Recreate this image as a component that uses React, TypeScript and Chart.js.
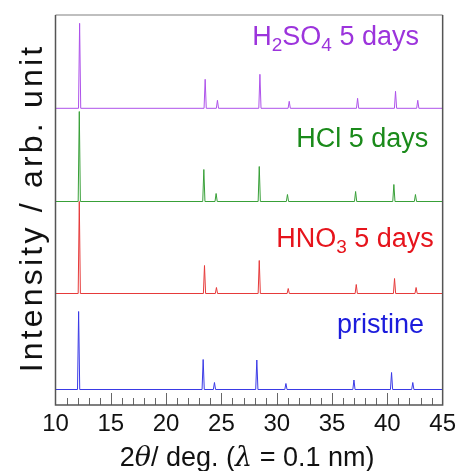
import React, { useEffect, useRef } from "react";
import { Chart, registerables } from "chart.js";

Chart.register(...registerables);

// ---- data ----
const xTicks = [10, 15, 20, 25, 30, 35, 40, 45];
const seriesNames = ["pristine", "HNO3 5 days", "HCl 5 days", "H2SO4 5 days"];
const baselines = [15.5, 111.5, 203.5, 296.7];

const pristinePeaks = [12.09, 23.35, 24.37, 28.2, 30.83, 36.98, 40.38, 42.3];
const pristineHeights = [78, 30, 7, 29.5, 6, 9.5, 17, 7];
const hno3Peaks = [12.15, 23.47, 24.55, 28.42, 31.04, 37.19, 40.65, 42.6];
const hno3Heights = [92, 28, 6, 33, 5, 9, 15, 6];
const hclPeaks = [12.15, 23.41, 24.52, 28.42, 30.97, 37.13, 40.59, 42.54];
const hclHeights = [90, 32, 8, 35, 7, 10, 17, 7];
const h2so4Peaks = [12.18, 23.53, 24.64, 28.48, 31.13, 37.31, 40.74, 42.75];
const h2so4Heights = [85, 29, 8, 34, 7, 10, 17, 8];

const lineColors = ["#3a3ae6", "#e63a3a", "#38a038", "#ae52ea"];
const textColors = ["#1c1cdc", "#e6141c", "#1a8a1a", "#9c34dc"];

const FONT = "'Liberation Sans', Arial, sans-serif";

function buildSeries(peaks: number[], heights: number[], base: number) {
  const pts: { x: number; y: number }[] = [{ x: 10, y: base }];
  const hw = 0.1;
  peaks.forEach((p, i) => {
    pts.push({ x: p - hw, y: base });
    pts.push({ x: p, y: base + heights[i] });
    pts.push({ x: p + hw, y: base });
  });
  pts.push({ x: 45, y: base });
  return pts;
}

type Run = { t: string; font: string; dy?: number };

function drawRuns(ctx: CanvasRenderingContext2D, runs: Run[], x: number, y: number, align: "left" | "center") {
  let total = 0;
  for (const r of runs) {
    ctx.font = r.font;
    total += ctx.measureText(r.t).width;
  }
  let cx = align === "center" ? x - total / 2 : x;
  ctx.textAlign = "left";
  ctx.textBaseline = "alphabetic";
  for (const r of runs) {
    ctx.font = r.font;
    ctx.fillText(r.t, cx, y + (r.dy || 0));
    cx += ctx.measureText(r.t).width;
  }
}

const big = `27px ${FONT}`;
const sub = `19px ${FONT}`;

const labelRuns: Run[][] = [
  [{ t: "pristine", font: big }],
  [
    { t: "HNO", font: big },
    { t: "3", font: sub, dy: 6 },
    { t: " 5 days", font: big },
  ],
  [{ t: "HCl 5 days", font: big }],
  [
    { t: "H", font: big },
    { t: "2", font: sub, dy: 6 },
    { t: "SO", font: big },
    { t: "4", font: sub, dy: 6 },
    { t: " 5 days", font: big },
  ],
];
// label anchors in data coordinates (left edge, baseline)
const labelAnchors = [
  { x: 35.45, y: 72 },
  { x: 29.95, y: 158 },
  { x: 31.76, y: 258 },
  { x: 27.79, y: 360 },
];

const decorPlugin = {
  id: "decor",
  beforeDatasetsDraw(chart: any) {
    const { ctx, chartArea, scales } = chart;
    const xs = scales.x;
    ctx.save();
    ctx.strokeStyle = "#666";
    ctx.lineWidth = 1;
    for (let v = 11; v < 45; v++) {
      const px = Math.round(xs.getPixelForValue(v)) + 0.5;
      const len = v % 5 === 0 ? 12 : 7;
      ctx.beginPath();
      ctx.moveTo(px, chartArea.bottom);
      ctx.lineTo(px, chartArea.bottom - len);
      ctx.stroke();
    }
    ctx.restore();
  },
  afterDraw(chart: any) {
    const { ctx, chartArea, scales } = chart;
    const xs = scales.x;
    const ys = scales.y;
    ctx.save();
    // frame
    ctx.lineWidth = 1.5;
    ctx.strokeStyle = "#aaa";
    ctx.beginPath();
    ctx.moveTo(chartArea.left, chartArea.top);
    ctx.lineTo(chartArea.right, chartArea.top);
    ctx.stroke();
    ctx.strokeStyle = "#555";
    ctx.beginPath();
    ctx.moveTo(chartArea.right, chartArea.top);
    ctx.lineTo(chartArea.right, chartArea.bottom);
    ctx.lineTo(chartArea.left, chartArea.bottom);
    ctx.lineTo(chartArea.left, chartArea.top);
    ctx.stroke();

    // series labels
    labelRuns.forEach((runs, i) => {
      ctx.fillStyle = textColors[i];
      const a = labelAnchors[i];
      drawRuns(ctx, runs, xs.getPixelForValue(a.x), ys.getPixelForValue(a.y), "left");
    });

    // x title
    ctx.fillStyle = "#111";
    const tf = `27px ${FONT}`;
    const ti = `italic 27px 'DejaVu Serif', serif`;
    drawRuns(
      ctx,
      [
        { t: "2", font: tf },
        { t: "θ", font: ti },
        { t: "/ deg. (", font: tf },
        { t: "λ", font: ti },
        { t: " = 0.1 nm)", font: tf },
      ],
      (chartArea.left + chartArea.right) / 2 - 2,
      466,
      "center"
    );

    // y title
    ctx.translate(42, (chartArea.top + chartArea.bottom) / 2 - 2);
    ctx.rotate(-Math.PI / 2);
    ctx.font = `32px ${FONT}`;
    (ctx as any).letterSpacing = "3.2px";
    ctx.textAlign = "center";
    ctx.textBaseline = "alphabetic";
    ctx.fillText("Intensity / arb. unit", 0, 0);
    ctx.restore();
  },
};

export default function App() {
  const ref = useRef<HTMLCanvasElement | null>(null);
  useEffect(() => {
    document.body.style.margin = "0";
    const allPeaks = [pristinePeaks, hno3Peaks, hclPeaks, h2so4Peaks];
    const allHeights = [pristineHeights, hno3Heights, hclHeights, h2so4Heights];
    const chart = new Chart(ref.current as HTMLCanvasElement, {
      type: "line",
      data: {
        datasets: seriesNames.map((name, i) => ({
          label: name,
          data: buildSeries(allPeaks[i], allHeights[i], baselines[i]),
          borderColor: lineColors[i],
          borderWidth: 1,
          pointRadius: 0,
          tension: 0,
          fill: false,
        })),
      },
      options: {
        responsive: false,
        animation: false,
        layout: { padding: { left: 55.5, top: 15, right: 17, bottom: 0 } },
        plugins: { legend: { display: false }, tooltip: { enabled: false } },
        scales: {
          x: {
            type: "linear",
            min: 10,
            max: 45,
            afterBuildTicks: (scale: any) => {
              scale.ticks = xTicks.map((v) => ({ value: v }));
            },
            afterFit: (scale: any) => {
              scale.height = 66;
            },
            grid: { display: false, drawTicks: false },
            border: { display: false },
            ticks: {
              padding: 5,
              color: "#111",
              font: { family: FONT, size: 24 },
              maxRotation: 0,
              autoSkip: false,
            },
          },
          y: { display: false, min: 0, max: 390 },
        },
      },
      plugins: [decorPlugin],
    } as any);
    return () => chart.destroy();
  }, []);
  return (
    <div style={{ position: "relative", width: 461, height: 471 }}>
      <canvas ref={ref} width={461} height={471} style={{ width: 461, height: 471, display: "block" }} />
    </div>
  );
}
